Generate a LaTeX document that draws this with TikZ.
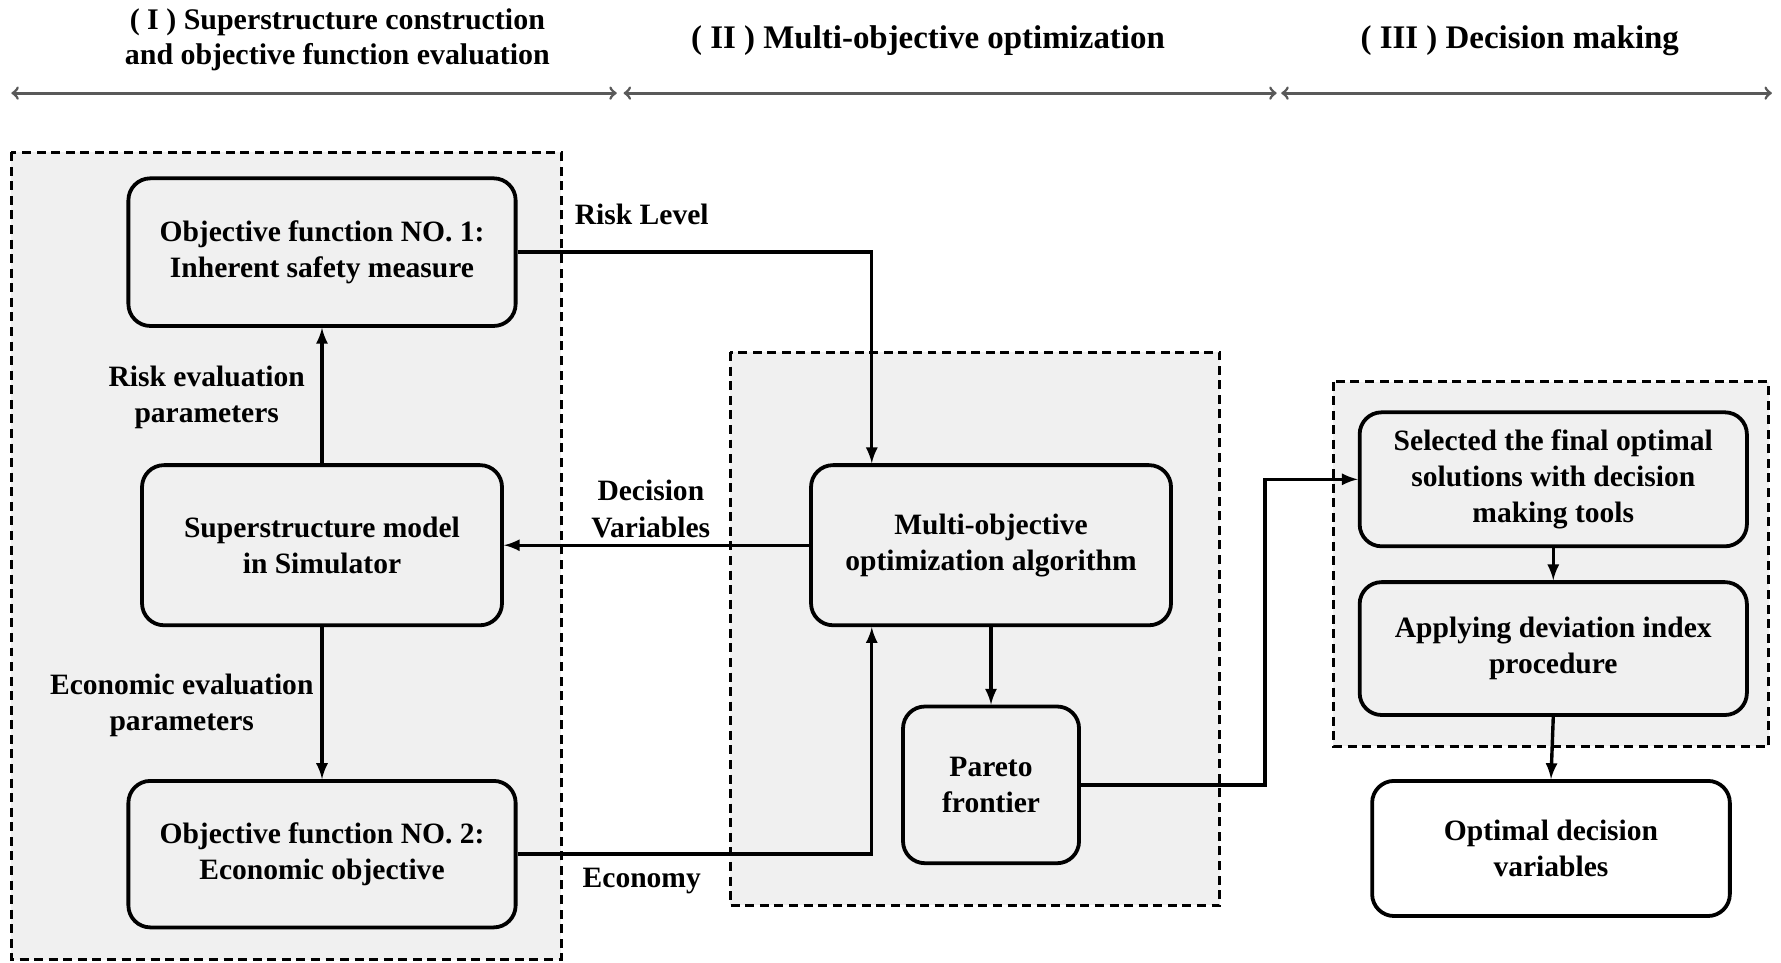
\documentclass[tikz,border=0pt]{standalone}
\usepackage{fontspec}
\setmainfont{Liberation Serif}
\definecolor{panelgray}{HTML}{F0F0F0}
\tikzset{
	region/.style={draw=black, fill=panelgray, dash pattern=on 4.5pt off 2.8pt, line width=1.5pt},
	stepbox/.style={draw=black, fill=panelgray, rounded corners=11pt, line width=1.9pt, align=center, inner sep=0pt, font=\bfseries\fontsize{14.8}{18.2}\selectfont},
	lbl/.style={align=center, font=\bfseries\fontsize{14.8}{18.2}\selectfont},
	head/.style={align=center, font=\bfseries\fontsize{16.5}{17.5}\selectfont},
	flow/.style={-latex, line width=1.7pt},
	span/.style={<->, draw=black!65, line width=1.4pt},
}

\begin{document}
\begin{tikzpicture}[x=0.02cm, y=-0.02cm]
	\useasboundingbox (0, 0) rectangle (1568, 847);
	% stages
	\node[head, font=\bfseries\fontsize{15}{17.6}\selectfont] (hI) at (297, 35) {( I ) Superstructure construction\\and objective function evaluation};
	\node[head] (hII) at (817, 36) {( II ) Multi-objective optimization};
	\node[head] (hIII) at (1338, 36) {( III ) Decision making};
	\draw[span] (10, 82) -- (543, 82);
	\draw[span] (549, 82) -- (1124, 82);
	\draw[span] (1128, 82) -- (1560, 82);
	% dashed panels
	\filldraw[region] (10, 134) rectangle (494, 845);
	\filldraw[region] (643, 310) rectangle (1074, 797);
	\filldraw[region] (1174, 336) rectangle (1557, 657);
	% boxes
	\node[stepbox, minimum width=6.82cm, minimum height=2.6cm] (obj1) at (283.5, 222) {Objective function NO. 1:\\Inherent safety measure};
	\node[stepbox, minimum width=6.34cm, minimum height=2.82cm] (super) at (283.5, 480) {Superstructure model\\in Simulator};
	\node[stepbox, minimum width=6.82cm, minimum height=2.58cm] (obj2) at (283.5, 752) {Objective function NO. 2:\\Economic objective};
	\node[stepbox, minimum width=6.34cm, minimum height=2.82cm] (moo) at (872.5, 480) {Multi-objective\\optimization algorithm};
	\node[stepbox, minimum width=3.1cm, minimum height=2.76cm] (pareto) at (872.5, 691) {Pareto\\frontier};
	\node[stepbox, minimum width=6.82cm, minimum height=2.36cm] (select) at (1367.5, 422) {Selected the final optimal\\solutions with decision\\making tools};
	\node[stepbox, minimum width=6.82cm, minimum height=2.34cm] (apply) at (1367.5, 571) {Applying deviation index\\procedure};
	\node[stepbox, fill=white, minimum width=6.3cm, minimum height=2.38cm] (optimal) at (1365.5, 747) {Optimal decision\\variables};
	% labels
	\node[lbl] (lrisk) at (182, 350) {Risk evaluation\\parameters};
	\node[lbl] (lecon) at (160, 621) {Economic evaluation\\parameters};
	\node[lbl] (llevel) at (565, 189) {Risk Level};
	\node[lbl] (ldec) at (573, 448) {Decision\\Variables};
	\node[lbl] (leco) at (565, 776) {Economy};
	% connectors
	\draw[flow] (super) -- (obj1);
	\draw[flow] (super) -- (obj2);
	\draw[flow] (obj1.east) -| ([xshift=-2.1cm]moo.north);
	\draw[flow] (obj2.east) -| ([xshift=-2.1cm]moo.south);
	\draw[flow] (moo) -- (super);
	\draw[flow] (moo) -- (pareto);
	\draw[flow] (pareto.east) -- ++(162, 0) |- (select.west);
	\draw[flow] (select) -- (apply);
	\draw[flow] (apply.south) -- (optimal.north);
\end{tikzpicture}
\end{document}
